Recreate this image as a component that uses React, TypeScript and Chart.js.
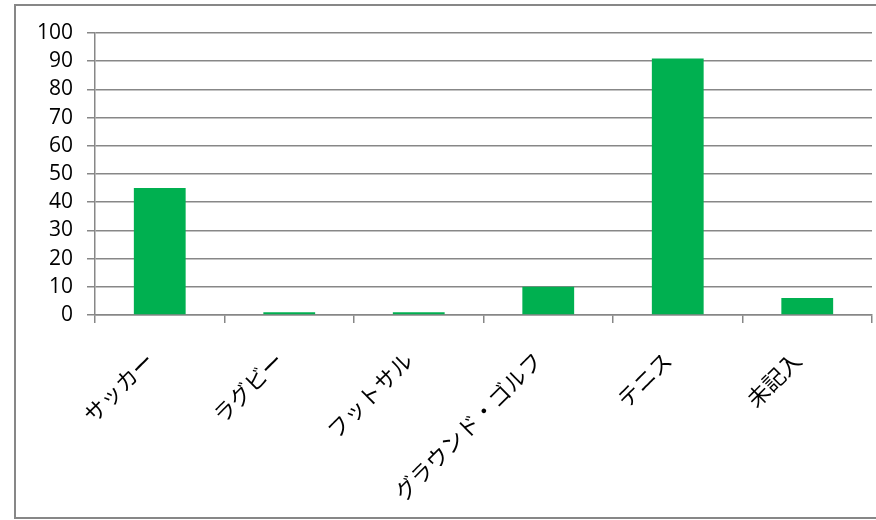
import React, { useEffect, useRef } from "react";
import { Chart, registerables } from "chart.js";

Chart.register(...registerables);

const categories = ["サッカー", "ラグビー", "フットサル", "グラウンド・ゴルフ", "テニス", "未記入"];
const values = [45, 1, 1, 10, 91, 6];
const yTicks = [0, 10, 20, 30, 40, 50, 60, 70, 80, 90, 100];

export default function App() {
  const ref = useRef<HTMLCanvasElement | null>(null);

  useEffect(() => {
    document.body.style.margin = "0";
    const ctx = ref.current;
    if (!ctx) return;
    const chart = new Chart(ctx, {
      type: "bar",
      data: {
        labels: categories,
        datasets: [
          {
            data: values,
            backgroundColor: "#00B050",
            borderWidth: 0,
            barPercentage: 0.4,
            categoryPercentage: 1,
          },
        ],
      },
      options: {
        animation: false,
        responsive: false,
        maintainAspectRatio: false,
        layout: { padding: { top: 33, right: 4, left: 0, bottom: 0 } },
        plugins: { legend: { display: false }, tooltip: { enabled: false } },
        scales: {
          x: {
            offset: true,
            grid: {
              display: true,
              drawOnChartArea: false,
              drawTicks: true,
              tickLength: 8,
              offset: true,
              color: "#878787",
              lineWidth: 1.5,
            },
            border: { display: true, color: "#878787", width: 1.5 },
            ticks: {
              maxRotation: 45,
              minRotation: 45,
              autoSkip: false,
              padding: 24,
              labelOffset: -10,
              color: "#000",
              font: { family: "'Noto Sans CJK JP'", size: 22 },
            },
            afterFit: (s: any) => {
              s.height = 205;
            },
          },
          y: {
            min: 0,
            max: 100,
            afterBuildTicks: (s: any) => {
              s.ticks = yTicks.map((v) => ({ value: v }));
            },
            grid: {
              color: "#878787",
              lineWidth: 1.5,
              tickLength: 8,
            },
            border: { display: true, color: "#878787", width: 1.5 },
            ticks: {
              padding: 14,
              color: "#000",
              font: { family: "'Open Sans'", size: 21 },
            },
            afterFit: (s: any) => {
              s.width = 95;
            },
          },
        },
      },
    });
    return () => chart.destroy();
  }, []);

  return (
    <div style={{ position: "relative", width: 876, height: 520, background: "#fff" }}>
      <div
        style={{
          position: "absolute",
          left: 14,
          top: 4,
          width: 870,
          height: 515,
          borderLeft: "2px solid #878787",
          borderTop: "2px solid #878787",
          borderBottom: "2px solid #878787",
          boxSizing: "border-box",
        }}
      />
      <canvas
        ref={ref}
        width={876}
        height={520}
        style={{ position: "absolute", left: 0, top: 0, width: 876, height: 520 }}
      />
    </div>
  );
}
